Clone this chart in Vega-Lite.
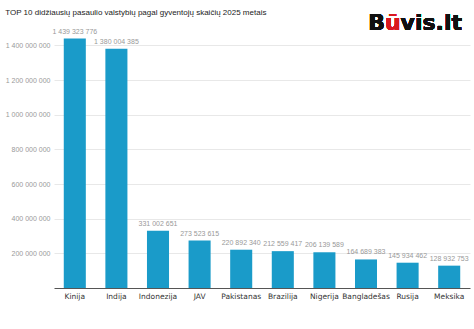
{
  "$schema": "https://vega.github.io/schema/vega-lite/v6.json",
  "autosize": "none",
  "width": 416,
  "height": 260,
  "padding": {"left": 54, "top": 28, "right": 4, "bottom": 41},
  "background": "white",
  "title": {
    "text": "TOP 10 didžiausių pasaulio valstybių pagal gyventojų skaičių 2025 metais",
    "anchor": "start",
    "frame": "bounds",
    "font": "Liberation Sans",
    "fontSize": 8,
    "fontWeight": "normal",
    "color": "#222",
    "offset": 0,
    "dy": 5
  },
  "data": {
    "values": [
      {"salis": "Kinija", "gyventojai": 1439323776},
      {"salis": "Indija", "gyventojai": 1380004385},
      {"salis": "Indonezija", "gyventojai": 331002651},
      {"salis": "JAV", "gyventojai": 273523615},
      {"salis": "Pakistanas", "gyventojai": 220892340},
      {"salis": "Brazilija", "gyventojai": 212559417},
      {"salis": "Nigerija", "gyventojai": 206139589},
      {"salis": "Bangladešas", "gyventojai": 164689383},
      {"salis": "Rusija", "gyventojai": 145934462},
      {"salis": "Meksika", "gyventojai": 128932753}
    ]
  },
  "encoding": {
    "x": {
      "field": "salis",
      "type": "nominal",
      "sort": null,
      "title": null,
      "scale": {"paddingInner": 0.47, "paddingOuter": 0.235},
      "axis": {
        "labelAngle": 0,
        "labelFont": "DejaVu Sans",
        "labelFontSize": 7.5,
        "labelColor": "#333",
        "labelPadding": 4,
        "ticks": false,
        "domainColor": "#555",
        "domainWidth": 1,
        "grid": false
      }
    }
  },
  "layer": [
    {
      "mark": {"type": "bar", "color": "#1a9bc9"},
      "encoding": {
        "y": {
          "field": "gyventojai",
          "type": "quantitative",
          "title": null,
          "scale": {"domain": [0, 1500000000], "nice": false},
          "axis": {
            "values": [200000000, 400000000, 600000000, 800000000, 1000000000, 1200000000, 1400000000],
            "format": ",d",
            "labelFont": "Liberation Sans",
            "labelFontSize": 7,
            "labelColor": "#999",
            "labelPadding": 4,
            "ticks": false,
            "domain": false,
            "gridColor": "#e8e8e8",
            "gridWidth": 1
          }
        }
      }
    },
    {
      "mark": {"type": "text", "baseline": "bottom", "dy": -4, "font": "Liberation Sans", "fontSize": 7, "color": "#999"},
      "encoding": {
        "y": {"field": "gyventojai", "type": "quantitative"},
        "text": {"field": "gyventojai", "type": "quantitative", "format": ",d"}
      }
    },
    {
      "mark": {"type": "text", "align": "left", "baseline": "alphabetic", "dx": -81, "dy": 2, "font": "DejaVu Sans", "fontWeight": "bold", "fontSize": 22, "color": "#111", "text": "B"},
      "encoding": {"x": {"datum": "Meksika"}, "y": {"datum": 1500000000}}
    },
    {
      "mark": {"type": "text", "align": "left", "baseline": "alphabetic", "dx": -64.3, "dy": 2, "font": "DejaVu Sans", "fontWeight": "bold", "fontSize": 22, "color": "#d9181f", "text": "ū"},
      "encoding": {"x": {"datum": "Meksika"}, "y": {"datum": 1500000000}}
    },
    {
      "mark": {"type": "text", "align": "left", "baseline": "alphabetic", "dx": -48.6, "dy": 2, "font": "DejaVu Sans", "fontWeight": "bold", "fontSize": 22, "color": "#111", "text": "vis.lt"},
      "encoding": {"x": {"datum": "Meksika"}, "y": {"datum": 1500000000}}
    }
  ],
  "config": {
    "locale": {"number": {"decimal": ",", "thousands": " ", "grouping": [3], "currency": ["", " €"]}},
    "view": {"stroke": null}
  }
}
